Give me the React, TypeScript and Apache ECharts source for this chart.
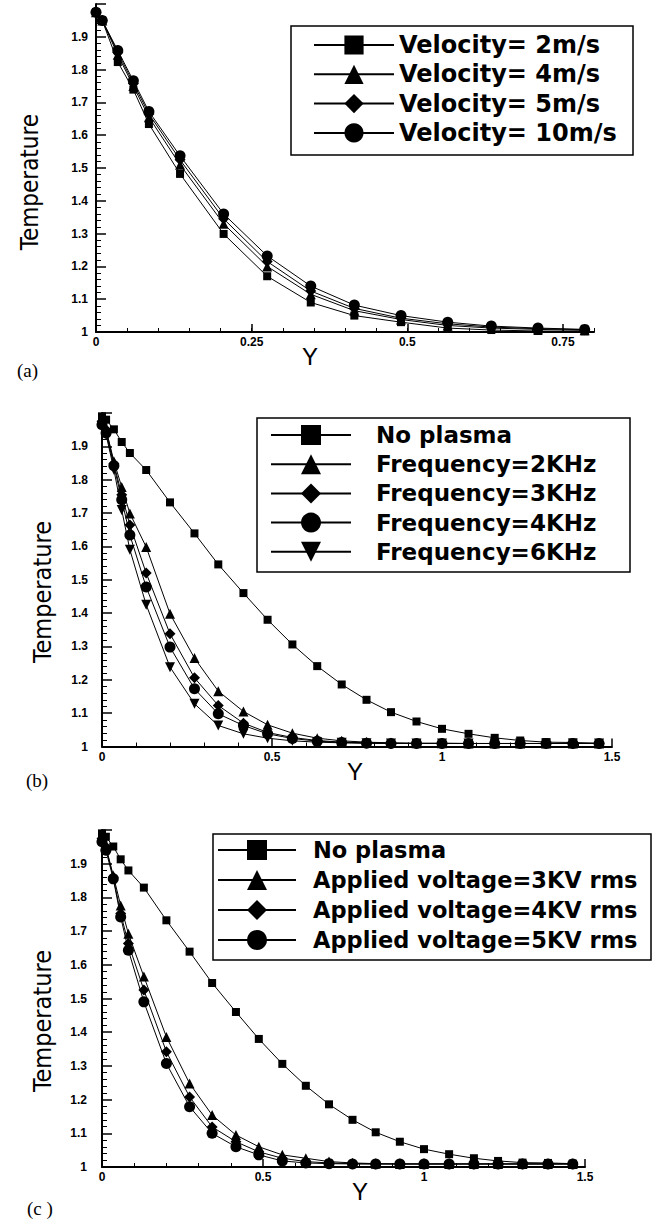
import React, { useEffect, useRef } from "react";
import * as echarts from "echarts";

// ---------- Panel (a): velocity ----------
const xA = [0, 0.01, 0.035, 0.06, 0.085, 0.135, 0.205, 0.275, 0.345, 0.415, 0.49, 0.565, 0.635, 0.71, 0.785];
const namesA = ["Velocity= 2m/s", "Velocity= 4m/s", "Velocity= 5m/s", "Velocity= 10m/s"];
const tV2 = [1.975, 1.95, 1.823, 1.739, 1.634, 1.482, 1.299, 1.17, 1.09, 1.05, 1.03, 1.012, 1.006, 1.003, 1.002];
const tV4 = [1.975, 1.95, 1.845, 1.75, 1.655, 1.51, 1.33, 1.2, 1.115, 1.065, 1.038, 1.02, 1.012, 1.008, 1.005];
const tV5 = [1.975, 1.95, 1.852, 1.758, 1.665, 1.525, 1.345, 1.215, 1.125, 1.072, 1.042, 1.025, 1.015, 1.01, 1.007];
const tV10 = [1.975, 1.95, 1.858, 1.766, 1.672, 1.537, 1.36, 1.232, 1.14, 1.082, 1.05, 1.03, 1.018, 1.012, 1.008];
const xTicksA = [0, 0.25, 0.5, 0.75];

// ---------- Panels (b) and (c): shared Y positions ----------
const xB = [0, 0.012, 0.035, 0.058, 0.082, 0.13, 0.2, 0.272, 0.342, 0.416, 0.487, 0.56, 0.633, 0.705, 0.778, 0.85, 0.925, 1.0, 1.078, 1.155, 1.23, 1.306, 1.385, 1.462];
const tNoPlasma = [1.99, 1.98, 1.951, 1.913, 1.88, 1.829, 1.732, 1.639, 1.546, 1.46, 1.38, 1.306, 1.241, 1.186, 1.14, 1.103, 1.075, 1.053, 1.038, 1.026, 1.018, 1.013, 1.012, 1.01];

// (b) frequency
const namesB = ["No plasma", "Frequency=2KHz", "Frequency=3KHz", "Frequency=4KHz", "Frequency=6KHz"];
const tF2 = [1.975, 1.95, 1.855, 1.778, 1.699, 1.598, 1.398, 1.265, 1.166, 1.105, 1.065, 1.04, 1.025, 1.017, 1.013, 1.011, 1.01, 1.01, 1.009, 1.009, 1.009, 1.009, 1.009, 1.009];
const tF3 = [1.975, 1.95, 1.848, 1.755, 1.664, 1.52, 1.338, 1.206, 1.123, 1.07, 1.042, 1.027, 1.018, 1.013, 1.011, 1.01, 1.009, 1.009, 1.009, 1.009, 1.009, 1.009, 1.009, 1.009];
const tF4 = [1.965, 1.94, 1.842, 1.74, 1.634, 1.478, 1.298, 1.173, 1.098, 1.063, 1.038, 1.024, 1.016, 1.012, 1.01, 1.009, 1.009, 1.009, 1.009, 1.009, 1.009, 1.009, 1.009, 1.009];
const tF6 = [1.96, 1.935, 1.83, 1.709, 1.59, 1.425, 1.238, 1.128, 1.063, 1.038, 1.025, 1.017, 1.013, 1.011, 1.01, 1.009, 1.009, 1.009, 1.009, 1.009, 1.009, 1.009, 1.009, 1.009];

// (c) applied voltage
const namesC = ["No plasma", "Applied voltage=3KV rms", "Applied voltage=4KV rms", "Applied voltage=5KV rms"];
const tK3 = [1.975, 1.95, 1.865, 1.776, 1.692, 1.565, 1.386, 1.248, 1.154, 1.095, 1.06, 1.036, 1.026, 1.016, 1.012, 1.01, 1.009, 1.009, 1.009, 1.009, 1.009, 1.009, 1.009, 1.009];
const tK4 = [1.975, 1.95, 1.86, 1.752, 1.663, 1.525, 1.342, 1.208, 1.119, 1.075, 1.045, 1.026, 1.016, 1.012, 1.01, 1.009, 1.009, 1.009, 1.009, 1.009, 1.009, 1.009, 1.009, 1.009];
const tK5 = [1.965, 1.94, 1.855, 1.742, 1.643, 1.49, 1.307, 1.179, 1.1, 1.06, 1.036, 1.018, 1.012, 1.01, 1.009, 1.009, 1.009, 1.009, 1.009, 1.009, 1.009, 1.009, 1.009, 1.009];

const yTicks = [1, 1.1, 1.2, 1.3, 1.4, 1.5, 1.6, 1.7, 1.8, 1.9];

const pair = (xs: number[], ys: number[]) => xs.map((x, i) => [x, ys[i]]);

const LABEL_FONT = "'Liberation Sans', Arial, sans-serif";

function yAxis(grid: number, margin: number) {
  return {
    type: "value",
    gridIndex: grid,
    min: 1,
    max: 2,
    interval: 0.1,
    axisLine: { show: true, onZero: false, lineStyle: { color: "#000", width: 2 } },
    axisTick: { show: true, inside: true, length: 10, lineStyle: { color: "#000", width: 1.5 } },
    minorTick: { show: true, splitNumber: 5, length: 5, lineStyle: { color: "#000", width: 1 } },
    splitLine: { show: false },
    axisLabel: {
      show: true,
      margin,
      showMaxLabel: false,
      color: "#000",
      fontSize: 12,
      fontWeight: "bold",
      fontFamily: LABEL_FONT,
      formatter: (v: number) => (yTicks.some((t) => Math.abs(t - v) < 1e-6) ? String(+v.toFixed(1)) : ""),
    },
  };
}

function xAxisBC(grid: number) {
  return {
    type: "value",
    gridIndex: grid,
    position: "bottom",
    min: 0,
    max: 1.5,
    interval: 0.5,
    axisLine: { show: true, onZero: false, lineStyle: { color: "#000", width: 2 } },
    axisTick: { show: true, inside: true, length: 8, lineStyle: { color: "#000", width: 1.5 } },
    minorTick: { show: true, splitNumber: 5, length: 4, lineStyle: { color: "#000", width: 1 } },
    splitLine: { show: false },
    axisLabel: { margin: 4, color: "#000", fontSize: 12, fontWeight: "bold", fontFamily: LABEL_FONT },
  };
}

function lineSeries(name: string, xs: number[], ys: number[], symbol: string, size: number, xi: number, yi: number, rotate = 0) {
  return {
    type: "line",
    name,
    xAxisIndex: xi,
    yAxisIndex: yi,
    data: pair(xs, ys),
    symbol,
    symbolSize: size,
    symbolRotate: rotate,
    showSymbol: true,
    showAllSymbol: true,
    smooth: false,
    lineStyle: { color: "#000", width: 1 },
    itemStyle: { color: "#000", borderWidth: 0 },
    emphasis: { disabled: true },
    z: 3,
  };
}

function legend(names: string[], left: number, top: number, itemWidth: number, itemHeight: number, gap: number, font: number, weight: string, padLeft: number) {
  return {
    show: true,
    orient: "vertical",
    left,
    top,
    padding: 0,
    itemWidth,
    itemHeight,
    itemGap: gap,
    selectedMode: false,
    data: names,
    textStyle: {
      color: "#000",
      fontSize: font,
      fontWeight: weight,
      fontFamily: "'DejaVu Sans', Verdana, sans-serif",
      lineHeight: itemHeight,
      padding: [0, 0, 0, padLeft],
    },
  };
}

const option: any = {
  animation: false,
  backgroundColor: "#fff",
  grid: [
    { left: 96, top: 4, width: 498, height: 328 },
    { left: 102, top: 413, width: 510, height: 333.5 },
    { left: 102, top: 830, width: 483, height: 337 },
  ],
  xAxis: [
    {
      type: "value",
      gridIndex: 0,
      position: "bottom",
      min: 0,
      max: 0.8,
      interval: 0.05,
      axisLine: { show: true, onZero: false, lineStyle: { color: "#000", width: 2 } },
      axisTick: { show: true, inside: true, length: 4, lineStyle: { color: "#000", width: 1 } },
      splitLine: { show: false },
      axisLabel: { show: false },
    },
    {
      type: "value",
      gridIndex: 0,
      position: "bottom",
      min: 0,
      max: 0.8,
      interval: 0.25,
      axisLine: { show: false, onZero: false },
      axisTick: { show: true, inside: true, length: 8, lineStyle: { color: "#000", width: 1.5 } },
      splitLine: { show: false },
      axisLabel: {
        margin: 4,
        showMaxLabel: false,
        color: "#000",
        fontSize: 12,
        fontWeight: "bold",
        fontFamily: LABEL_FONT,
        formatter: (v: number) => (xTicksA.some((t) => Math.abs(t - v) < 1e-6) ? String(v) : ""),
      },
    },
    xAxisBC(1),
    xAxisBC(2),
  ],
  yAxis: [yAxis(0, 8), yAxis(1, 14), yAxis(2, 15)],
  legend: [
    legend(namesA, 313, 33, 80, 24, 5.3, 24, "bold", 0),
    legend(namesB, 270, 422.5, 80, 25, 4.2, 23, "bold", 20),
    legend(namesC, 217, 837.5, 78, 25, 5, 22.5, "bold", 12),
  ],
  series: [
    lineSeries(namesA[0], xA, tV2, "rect", 8, 0, 0),
    lineSeries(namesA[1], xA, tV4, "triangle", 10, 0, 0),
    lineSeries(namesA[2], xA, tV5, "diamond", 11, 0, 0),
    lineSeries(namesA[3], xA, tV10, "circle", 11, 0, 0),

    lineSeries(namesB[0], xB, tNoPlasma, "rect", 8, 2, 1),
    lineSeries(namesB[1], xB, tF2, "triangle", 10, 2, 1),
    lineSeries(namesB[2], xB, tF3, "diamond", 11, 2, 1),
    lineSeries(namesB[3], xB, tF4, "circle", 11, 2, 1),
    lineSeries(namesB[4], xB, tF6, "triangle", 10, 2, 1, 180),

    lineSeries(namesC[0], xB, tNoPlasma, "rect", 8, 3, 2),
    lineSeries(namesC[1], xB, tK3, "triangle", 10, 3, 2),
    lineSeries(namesC[2], xB, tK4, "diamond", 11, 3, 2),
    lineSeries(namesC[3], xB, tK5, "circle", 11, 3, 2),
  ],
  graphic: [
    // legend boxes
    { type: "rect", shape: { x: 291, y: 26, width: 342, height: 129 }, style: { fill: "none", stroke: "#000", lineWidth: 1.5 }, z: 1 },
    { type: "rect", shape: { x: 257, y: 418, width: 373, height: 154 }, style: { fill: "none", stroke: "#000", lineWidth: 1.5 }, z: 1 },
    { type: "rect", shape: { x: 213, y: 834, width: 438, height: 126 }, style: { fill: "none", stroke: "#000", lineWidth: 1.5 }, z: 1 },
    // axis titles
    ...[
      { x: 30, y: 182, size: 24 },
      { x: 42, y: 592, size: 25 },
      { x: 42, y: 1021, size: 25 },
    ].map((p) => ({
      type: "text",
      x: p.x,
      y: p.y,
      rotation: Math.PI / 2,
      style: {
        text: "Temperature",
        fill: "#000",
        fontSize: p.size,
        fontFamily: "'Liberation Sans Narrow', 'DejaVu Sans Condensed', sans-serif",
        align: "center",
        verticalAlign: "middle",
        textAlign: "center",
        textVerticalAlign: "middle",
      },
    })),
    ...[
      { x: 310, y: 356 },
      { x: 355, y: 771 },
      { x: 360, y: 1191 },
    ].map((p) => ({
      type: "text",
      x: p.x,
      y: p.y,
      style: {
        text: "Y",
        fill: "#000",
        fontSize: 24,
        fontFamily: LABEL_FONT,
        align: "center",
        verticalAlign: "middle",
        textAlign: "center",
        textVerticalAlign: "middle",
      },
    })),
    // panel tags
    ...[
      { t: "(a)", x: 17, y: 370 },
      { t: "(b)", x: 26, y: 780 },
      { t: "(c )", x: 27, y: 1208 },
    ].map((p) => ({
      type: "text",
      x: p.x,
      y: p.y,
      style: {
        text: p.t,
        fill: "#000",
        fontSize: 19,
        fontFamily: "'Liberation Serif', 'Times New Roman', serif",
        align: "left",
        verticalAlign: "middle",
        textAlign: "left",
        textVerticalAlign: "middle",
      },
    })),
  ],
};

export default function App() {
  const ref = useRef<HTMLDivElement>(null);
  useEffect(() => {
    const chart = echarts.init(ref.current!, null, { renderer: "svg" });
    chart.setOption(option);
    return () => chart.dispose();
  }, []);
  return (
    <div
      ref={ref}
      style={{ position: "absolute", left: 0, top: 0, width: 654, height: 1219, background: "#fff" }}
    />
  );
}
